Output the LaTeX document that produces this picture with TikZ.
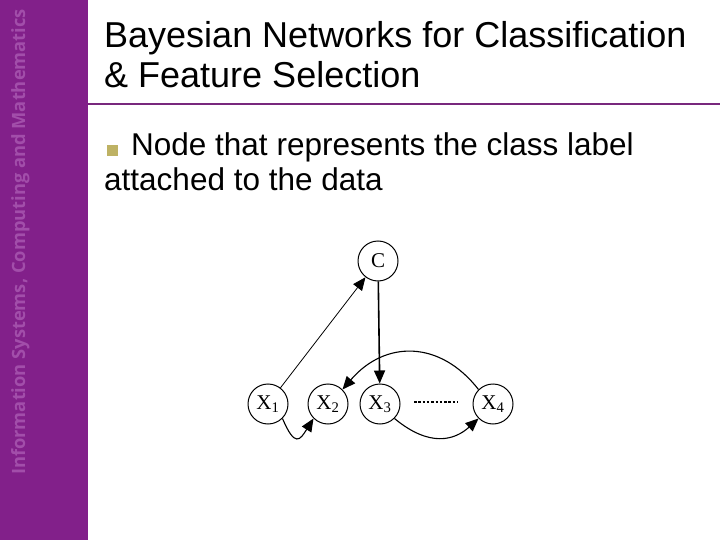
\documentclass[tikz,border=0pt]{standalone}
\usepackage{fontspec}
\setmainfont{Liberation Sans}
\newfontfamily\sidefont{Open Sans}
\newfontfamily\nodefont{Liberation Serif}
\usetikzlibrary{arrows.meta}
\definecolor{sidepurple}{RGB}{130,32,138}
\definecolor{sidetext}{RGB}{162,78,170}
\definecolor{linepurple}{RGB}{120,40,125}
\definecolor{bulletcol}{RGB}{190,178,100}
\begin{document}
\begin{tikzpicture}[x=1pt,y=-1pt,
  bn/.style={circle,draw,line width=1pt,minimum size=40pt,inner sep=0pt,font=\nodefont\fontsize{21}{21}\selectfont},
  edge/.style={line width=1.1pt,-{Triangle[length=13pt,width=11pt]}},
  title/.style={anchor=base west,inner sep=0pt,font=\fontsize{36}{36}\selectfont},
  body/.style={anchor=base west,inner sep=0pt,font=\fontsize{31.5}{31.5}\selectfont}]
\useasboundingbox (0,0) rectangle (720,540);
\fill[white] (0,0) rectangle (720,540);
\fill[sidepurple] (0,0) rectangle (88,540);
\node[rotate=90,anchor=base west,inner sep=0pt,text=sidetext,font=\sidefont\bfseries\fontsize{18.3}{18.3}\selectfont] (side) at (25,475) {Information Systems, Computing and Mathematics};
\draw[linepurple,line width=2.5pt] (88,104) -- (720,104);
\node[title] (t1) at (104,48) {Bayesian Networks for Classification};
\node[title] (t2) at (104,88) {\& Feature Selection};
\fill[bulletcol] (107,145) rectangle (118,156);
\node[body] (b1) at (131,156) {Node that represents the class label};
\node[body] (b2) at (104,191) {attached to the data};
% network
\node[bn] (C) at (378,261) {C};
\node[bn] (X1) at (268,404) {X\textsubscript{1}};
\node[bn] (X2) at (328,404) {X\textsubscript{2}};
\node[bn] (X3) at (380,404) {X\textsubscript{3}};
\node[bn] (X4) at (493,404) {X\textsubscript{4}};
\draw[edge,line width=0.8pt] (X1) -- (C);
\draw[edge,line width=1.6pt] (C) -- (X3);
\draw[edge] (X4.north west) .. controls (440,340) and (385,340) .. (X2.north east);
\draw[edge] (X1.south east) .. controls (295,448) and (300,440) .. (X2.south west);
\draw[edge] (X3.south east) .. controls (430,448) and (455,440) .. (X4.south west);
\draw[line width=2.5pt,dash pattern=on 2.5pt off 1.8pt] (414,402) -- (458,402);
\end{tikzpicture}
\end{document}
